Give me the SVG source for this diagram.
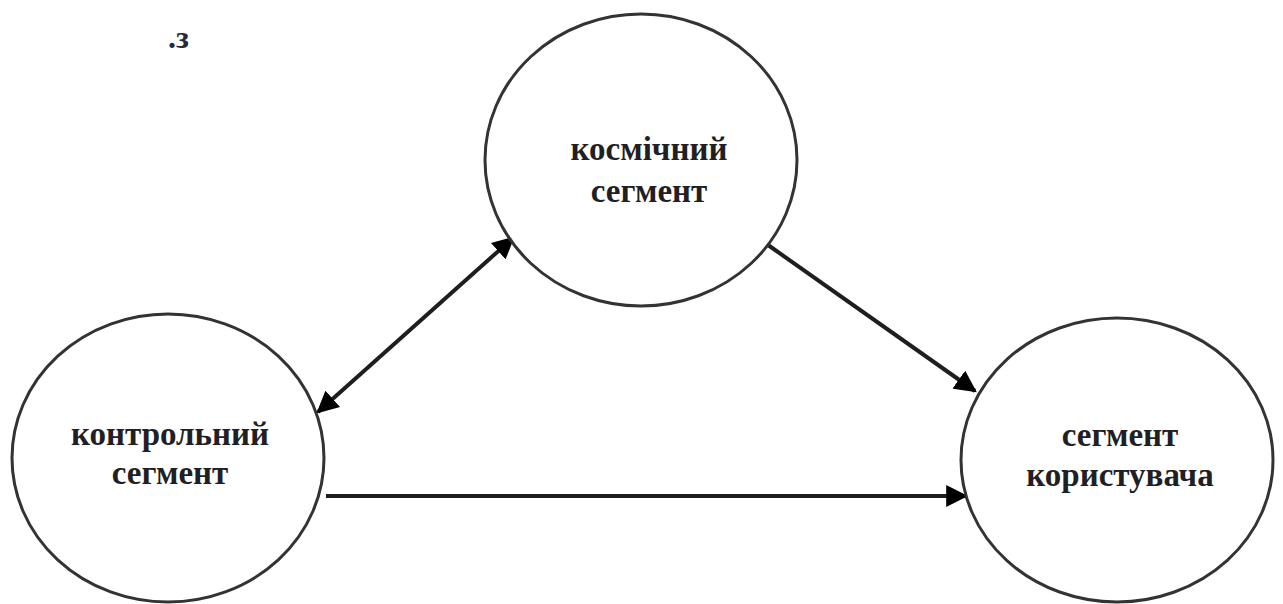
<svg xmlns="http://www.w3.org/2000/svg" width="1283" height="604" viewBox="0 0 1283 604">
  <style>
    .node ellipse { fill: #ffffff; stroke: #333333; stroke-width: 3; }
    .label { font-family: "Liberation Serif", "DejaVu Serif", serif; font-weight: bold; font-size: 33px; fill: #1f1f24; text-anchor: middle; }
    .link { fill: none; stroke: #1e1e1e; stroke-width: 4; }
    .mark { font-family: "Liberation Serif", "DejaVu Serif", serif; font-weight: bold; font-size: 32px; fill: #2a2a33; }
  </style>
  <defs>
    <marker id="arrow" viewBox="0 0 10 10" refX="9" refY="5" markerWidth="5.5" markerHeight="5.5" markerUnits="strokeWidth" orient="auto-start-reverse">
      <path d="M0,0 L10,5 L0,10 Z" fill="#000000"/>
    </marker>
  </defs>
  <rect width="1283" height="604" fill="#ffffff"/>

  <text class="mark" x="168" y="48">.з</text>

  <g id="connectors">
    <line class="link" x1="318" y1="412" x2="513" y2="238" marker-start="url(#arrow)" marker-end="url(#arrow)"/>
    <line class="link" x1="768" y1="245" x2="975" y2="391" marker-end="url(#arrow)"/>
    <line class="link" x1="326" y1="496" x2="966" y2="496" marker-end="url(#arrow)"/>
  </g>

  <g id="node-space" class="node">
    <ellipse cx="641" cy="160" rx="156" ry="146"/>
    <text class="label" x="649" y="160">космічний</text>
    <text class="label" x="649" y="202">сегмент</text>
  </g>

  <g id="node-control" class="node">
    <ellipse cx="168" cy="458" rx="156" ry="144"/>
    <text class="label" x="170" y="445">контрольний</text>
    <text class="label" x="170" y="484">сегмент</text>
  </g>

  <g id="node-user" class="node">
    <ellipse cx="1117" cy="460" rx="156" ry="142"/>
    <text class="label" x="1120" y="446">сегмент</text>
    <text class="label" x="1120" y="486">користувача</text>
  </g>
</svg>
